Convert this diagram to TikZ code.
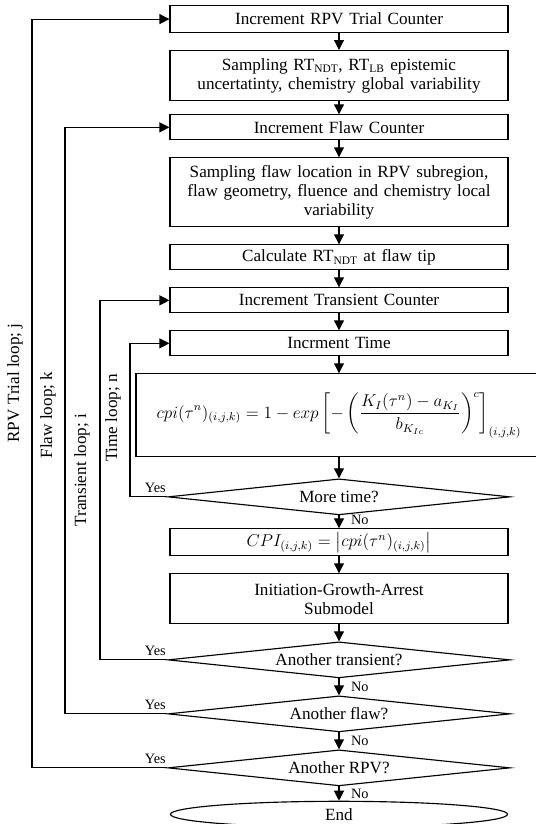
\documentclass[tikz,border=0pt]{standalone}
\usepackage{amsmath}
\usepackage{fontspec}
\setmainfont{Liberation Serif}
\usepackage{tikz}
\usetikzlibrary{arrows.meta,positioning,shapes.geometric}

\begin{document}
\begin{tikzpicture}[
  node distance=11.8pt,
  box/.style={draw, line width=0.8pt, align=center, font=\fontsize{12}{13.3}\selectfont, text width=232.6pt, inner sep=2pt, minimum height=17.5pt},
  dec/.style={draw, diamond, line width=0.8pt, font=\fontsize{12}{13.3}\selectfont, inner sep=0pt, aspect=9, minimum width=239.4pt, minimum height=25.2pt},
  arr/.style={-{Triangle[length=7pt,width=7pt]}, line width=0.8pt},
  lbl/.style={font=\fontsize{10}{12}\selectfont, inner sep=1pt},
  side/.style={font=\fontsize{12}{13.3}\selectfont, rotate=90}
]
\useasboundingbox (0,0) rectangle (375.2pt,-576.8pt);
\node[box, anchor=north, minimum height=18.9pt] (n1) at (237.3pt,-3.5pt) {Increment RPV Trial Counter};
\node[box, below=of n1, minimum height=35pt] (n2) {Sampling RT\textsubscript{NDT}, RT\textsubscript{LB} epistemic\\uncertatinty, chemistry global variability};
\node[box, below=9.2pt of n2] (n3) {Increment Flaw Counter};
\node[box, below=of n3, minimum height=48.3pt] (n4) {Sampling flaw location in RPV subregion,\\flaw geometry, fluence and chemistry local\\variability};
\node[box, below=of n4] (n5) {Calculate RT\textsubscript{NDT} at flaw tip};
\node[box, below=of n5] (n6) {Increment Transient Counter};
\node[box, below=of n6] (n7) {Incrment Time};
\node[box, below=of n7, text width=280.2pt, minimum height=58.1pt] (n8) {${\displaystyle cpi(\tau^n)_{(i,j,k)} = 1 - exp\left[-\left(\frac{K_I(\tau^n) - a_{K_I}}{b_{K_{Ic}}}\right)^{c}\right]_{(i,j,k)}}$};
\node[dec, below=14.6pt of n8] (d1) {More time?};
\node[box, below=9pt of d1, minimum height=18.9pt] (n9) {${CPI_{(i,j,k)} = \left|cpi(\tau^n)_{(i,j,k)}\right|}$};
\node[box, below=of n9, minimum height=35pt] (n10) {Initiation-Growth-Arrest\\Submodel};
\node[dec, below=of n10] (d2) {Another transient?};
\node[dec, below=of d2] (d3) {Another flaw?};
\node[dec, below=of d3] (d4) {Another RPV?};
\node[draw, ellipse, line width=0.8pt, font=\fontsize{12}{13.3}\selectfont, inner sep=0pt, minimum width=236pt, minimum height=18.2pt, below=10pt of d4] (n11) {End};
% loop lanes
\coordinate (lj) at (22.4pt,0);
\coordinate (lk) at (45.5pt,0);
\coordinate (li) at (70pt,0);
\coordinate (ln) at (91pt,0);
\node[side] (s1) at (10.5pt,-268.1pt) {RPV Trial loop; j};
\node[side] (s2) at (33.6pt,-290.5pt) {Flaw loop; k};
\node[side] (s3) at (57.4pt,-329pt) {Transient loop; i};
\node[side] (s4) at (79.1pt,-292.6pt) {Time loop; n};
\draw[arr] (n1)--(n2);
\draw[arr] (n2)--(n3);
\draw[arr] (n3)--(n4);
\draw[arr] (n4)--(n5);
\draw[arr] (n5)--(n6);
\draw[arr] (n6)--(n7);
\draw[arr] (n7)--(n8);
\draw[arr] (n8)--(d1);
\draw[arr] (d1)--node[lbl, right=7pt, pos=0.35] (o1) {No}(n9);
\draw[arr] (n9)--(n10);
\draw[arr] (n10)--(d2);
\draw[arr] (d2)--node[lbl, right=7pt] (o2) {No}(d3);
\draw[arr] (d3)--node[lbl, right=7pt] (o3) {No}(d4);
\draw[arr] (d4)--node[lbl, right=7pt] (o4) {No}(n11);
% yes branches
\draw[arr] (d1.west) -- (d1.west -| ln) |- (n7.west);
\draw[arr] (d2.west) -- (d2.west -| li) |- (n6.west);
\draw[arr] (d3.west) -- (d3.west -| lk) |- (n3.west);
\draw[arr] (d4.west) -- (d4.west -| lj) |- (n1.west);
\node[lbl, above left, yshift=1.5pt] (y1) at (d1.west) {Yes};
\node[lbl, above left, yshift=1.5pt] (y2) at (d2.west) {Yes};
\node[lbl, above left, yshift=1.5pt] (y3) at (d3.west) {Yes};
\node[lbl, above left, yshift=1.5pt] (y4) at (d4.west) {Yes};
\end{tikzpicture}
\end{document}
